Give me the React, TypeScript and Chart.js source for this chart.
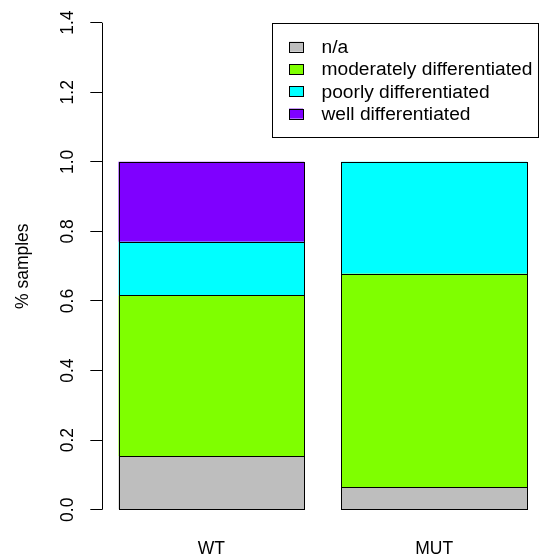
import React, { useEffect, useRef } from "react";
import { Chart, registerables } from "chart.js";

Chart.register(...registerables);

// ---- data ----
const categories = ["WT", "MUT"];
const seriesLabels = [
  "n/a",
  "moderately differentiated",
  "poorly differentiated",
  "well differentiated",
];
const naValues = [0.154, 0.065];
const moderatelyValues = [0.462, 0.613];
const poorlyValues = [0.154, 0.322];
const wellValues = [0.23, 0];
const yTicks = [0, 0.2, 0.4, 0.6, 0.8, 1.0, 1.2, 1.4];
const yTitle = "% samples";

const seriesValues = [naValues, moderatelyValues, poorlyValues, wellValues];
const seriesColors = ["#BEBEBE", "#7FFF00", "#00FFFF", "#7F00FF"];

const FONT = "Liberation Sans, Arial, Helvetica, sans-serif";

const axisLinePlugin = {
  id: "rAxisLine",
  afterDraw(chart: any) {
    const ys = chart.scales.y;
    const ctx = chart.ctx;
    const x = Math.round(chart.chartArea.left) + 0.5;
    ctx.save();
    ctx.strokeStyle = "#000";
    ctx.lineWidth = 1;
    ctx.beginPath();
    ctx.moveTo(x, ys.getPixelForValue(yTicks[0]));
    ctx.lineTo(x, ys.getPixelForValue(yTicks[yTicks.length - 1]));
    ctx.stroke();
    ctx.restore();
  },
};

const barOutlinePlugin = {
  id: "rBarOutline",
  afterDatasetsDraw(chart: any) {
    const ctx = chart.ctx;
    ctx.save();
    ctx.strokeStyle = "#000";
    ctx.lineWidth = 1;
    chart.data.datasets.forEach((_: any, di: number) => {
      const meta = chart.getDatasetMeta(di);
      meta.data.forEach((el: any) => {
        const p = el.getProps(["x", "y", "base", "width"], true);
        if (Math.abs(p.base - p.y) < 0.01) return;
        const l = Math.round(p.x - p.width / 2) + 0.5;
        const r = Math.round(p.x + p.width / 2) + 0.5;
        const t = Math.round(Math.min(p.y, p.base)) + 0.5;
        const b = Math.round(Math.max(p.y, p.base)) + 0.5;
        ctx.strokeRect(l, t, r - l, b - t);
      });
    });
    ctx.restore();
  },
};

const boxLegendPlugin = {
  id: "rBoxLegend",
  afterDraw(chart: any) {
    const ctx = chart.ctx;
    const left = 272.5;
    const top = 23.5;
    const right = 538.5;
    const bottom = 137.5;
    ctx.save();
    ctx.fillStyle = "#fff";
    ctx.fillRect(left, top, right - left, bottom - top);
    ctx.strokeStyle = "#000";
    ctx.lineWidth = 1;
    ctx.strokeRect(left, top, right - left, bottom - top);
    const rowStart = 46.7;
    const rowGap = 22.3;
    ctx.font = `19.2px ${FONT}`;
    ctx.textBaseline = "middle";
    ctx.textAlign = "left";
    chart.data.datasets.forEach((ds: any, i: number) => {
      const cy = rowStart + i * rowGap;
      ctx.fillStyle = ds.backgroundColor;
      ctx.fillRect(289, cy - 5, 14, 10);
      ctx.strokeStyle = "#000";
      ctx.strokeRect(289.5, Math.round(cy - 5) + 0.5, 14, 10);
      ctx.fillStyle = "#000";
      ctx.fillText(ds.label, 321.5, cy + 1);
    });
    ctx.restore();
  },
};

export default function App() {
  const canvasRef = useRef<HTMLCanvasElement | null>(null);

  useEffect(() => {
    if (!canvasRef.current) return;
    const chart = new Chart(canvasRef.current, {
      type: "bar",
      data: {
        labels: categories.map((_, i) => i),
        datasets: seriesLabels.map((label, i) => ({
          label,
          data: seriesValues[i],
          backgroundColor: seriesColors[i],
          borderWidth: 0,
          categoryPercentage: 1,
          barPercentage: 1 / 1.2,
        })),
      },
      options: {
        animation: false,
        responsive: true,
        maintainAspectRatio: false,
        layout: { padding: { top: 3.2, right: 0, left: 0, bottom: 0 } },
        plugins: {
          legend: { display: false },
          tooltip: { enabled: false },
        },
        scales: {
          x: {
            type: "linear",
            stacked: true,
            offset: false,
            min: -0.4895,
            max: 1.4706,
            afterBuildTicks: (s: any) => {
              s.ticks = categories.map((_, i) => ({ value: i }));
            },
            afterFit: (s: any) => {
              s.height = 28.8;
              s.paddingLeft = 0;
              s.paddingRight = 0;
            },
            ticks: {
              autoSkip: false,
              maxRotation: 0,
              padding: 1.5,
              color: "#000",
              font: { family: FONT, size: 17.5 },
              callback: (v: any) => categories[v],
            },
            grid: { display: false, offset: false },
            border: { display: false },
          },
          y: {
            type: "linear",
            stacked: true,
            min: -0.056,
            max: 1.456,
            afterBuildTicks: (s: any) => {
              s.ticks = yTicks.map((v) => ({ value: v }));
            },
            afterFit: (s: any) => {
              s.width = 102.3;
              s.paddingTop = 0;
              s.paddingBottom = 0;
            },
            ticks: {
              minRotation: 90,
              maxRotation: 90,
              crossAlign: "center",
              padding: 10,
              color: "#000",
              font: { family: FONT, size: 17.5 },
              callback: (v: any) => Number(v).toFixed(1),
            },
            grid: {
              drawOnChartArea: false,
              drawTicks: true,
              tickLength: 12,
              color: "#000",
              lineWidth: 1,
            },
            border: { display: false },
            title: {
              display: true,
              text: yTitle,
              color: "#000",
              font: { family: FONT, size: 17.5 },
              padding: { top: 12.8, bottom: 0 },
            },
          },
        },
      } as any,
      plugins: [barOutlinePlugin, axisLinePlugin, boxLegendPlugin],
    });
    return () => chart.destroy();
  }, []);

  return (
    <div
      style={{
        position: "absolute",
        left: 0,
        top: 0,
        width: 539,
        height: 558,
        background: "#fff",
      }}
    >
      <canvas ref={canvasRef} />
    </div>
  );
}
